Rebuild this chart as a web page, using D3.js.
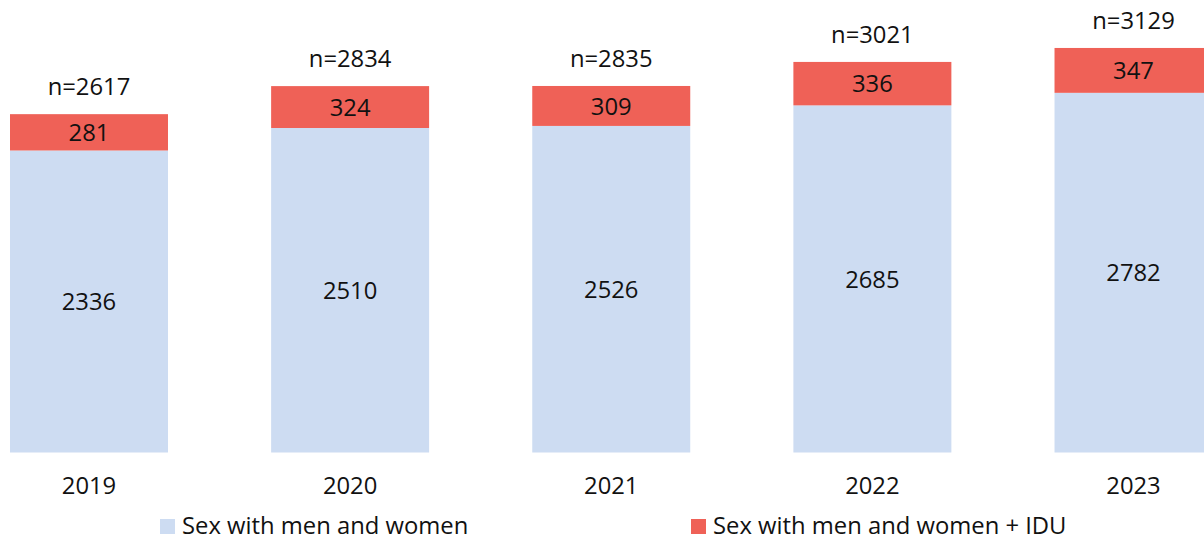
<!DOCTYPE html>
<html>
<head>
<meta charset="utf-8">
<script src="https://cdn.jsdelivr.net/npm/d3@7"></script>
<style>
  body { margin: 0; background: #fff; }
  svg { display: block; font-family: "Open Sans", sans-serif; }
  text { fill: #111; }
</style>
</head>
<body>
<div id="okvir"></div>
<script>
// podaci
const godine = ["2019", "2020", "2021", "2022", "2023"]
const muskarciZene = [2336, 2510, 2526, 2685, 2782]
const muskarciZeneIDU = [281, 324, 309, 336, 347]
const ukupno = [2617, 2834, 2835, 3021, 3129]
const serije = ["Sex with men and women", "Sex with men and women + IDU"]
const boje = ["#cddcf2", "#ef6157"]

const sirina = 1204
const visina = 539
const velicinaFonta = "23.8px"

const okvir = d3.select("#okvir").append("svg")
    .attr("width", sirina)
    .attr("height", visina)

const podaci = godine.map((g, i) => ({
  godina: g, a: muskarciZene[i], b: muskarciZeneIDU[i], n: ukupno[i]
}))

const xSkala = d3.scaleBand()
  .domain(godine)
  .range([10, 1212.5])
  .paddingInner(0.395)
  .paddingOuter(0)

const ySkala = d3.scaleLinear()
  .domain([0, 3500])
  .range([452.5, 0])

const stog = d3.stack().keys(["a", "b"])(podaci)

const sloj = okvir.selectAll(".sloj")
  .data(stog)
  .join("g")
    .attr("class", "sloj")
    .attr("fill", (d, i) => boje[i])

sloj.selectAll("rect")
  .data(d => d)
  .join("rect")
    .attr("x", d => xSkala(d.data.godina))
    .attr("y", d => ySkala(d[1]))
    .attr("width", xSkala.bandwidth())
    .attr("height", d => ySkala(d[0]) - ySkala(d[1]))

// oznake vrijednosti
const oznake = okvir.append("g")
stog.forEach(s => {
  oznake.selectAll(null)
    .data(s)
    .join("text")
      .attr("x", d => xSkala(d.data.godina) + xSkala.bandwidth() / 2)
      .attr("y", d => (ySkala(d[0]) + ySkala(d[1])) / 2)
      .attr("dy", "0.36em")
      .attr("text-anchor", "middle")
      .style("font-size", velicinaFonta)
      .text(d => d[1] - d[0])
})

// n=
okvir.append("g").selectAll("text")
  .data(podaci)
  .join("text")
    .attr("x", d => xSkala(d.godina) + xSkala.bandwidth() / 2)
    .attr("y", d => ySkala(d.n) - 19)
    .attr("text-anchor", "middle")
    .style("font-size", velicinaFonta)
    .text(d => "n=" + d.n)

// x os
const xOs = d3.axisBottom(xSkala).tickSize(0).tickPadding(0)
okvir.append("g")
    .attr("transform", "translate(0, 477)")
    .call(xOs)
    .call(g => g.select(".domain").remove())
    .call(g => g.selectAll("text")
      .style("font-size", velicinaFonta)
      .style("font-family", "'Open Sans', sans-serif")
      .attr("fill", "#111"))

// legenda
const legendaX = [160, 691]
const legenda = okvir.append("g").selectAll("g")
  .data(serije)
  .join("g")
    .attr("transform", (d, i) => `translate(${legendaX[i]}, 519)`)

legenda.append("rect")
    .attr("width", 15)
    .attr("height", 15)
    .attr("fill", (d, i) => boje[i])

legenda.append("text")
    .attr("x", 22)
    .attr("y", 14.5)
    .style("font-size", velicinaFonta)
    .text(d => d)
</script>
</body>
</html>
